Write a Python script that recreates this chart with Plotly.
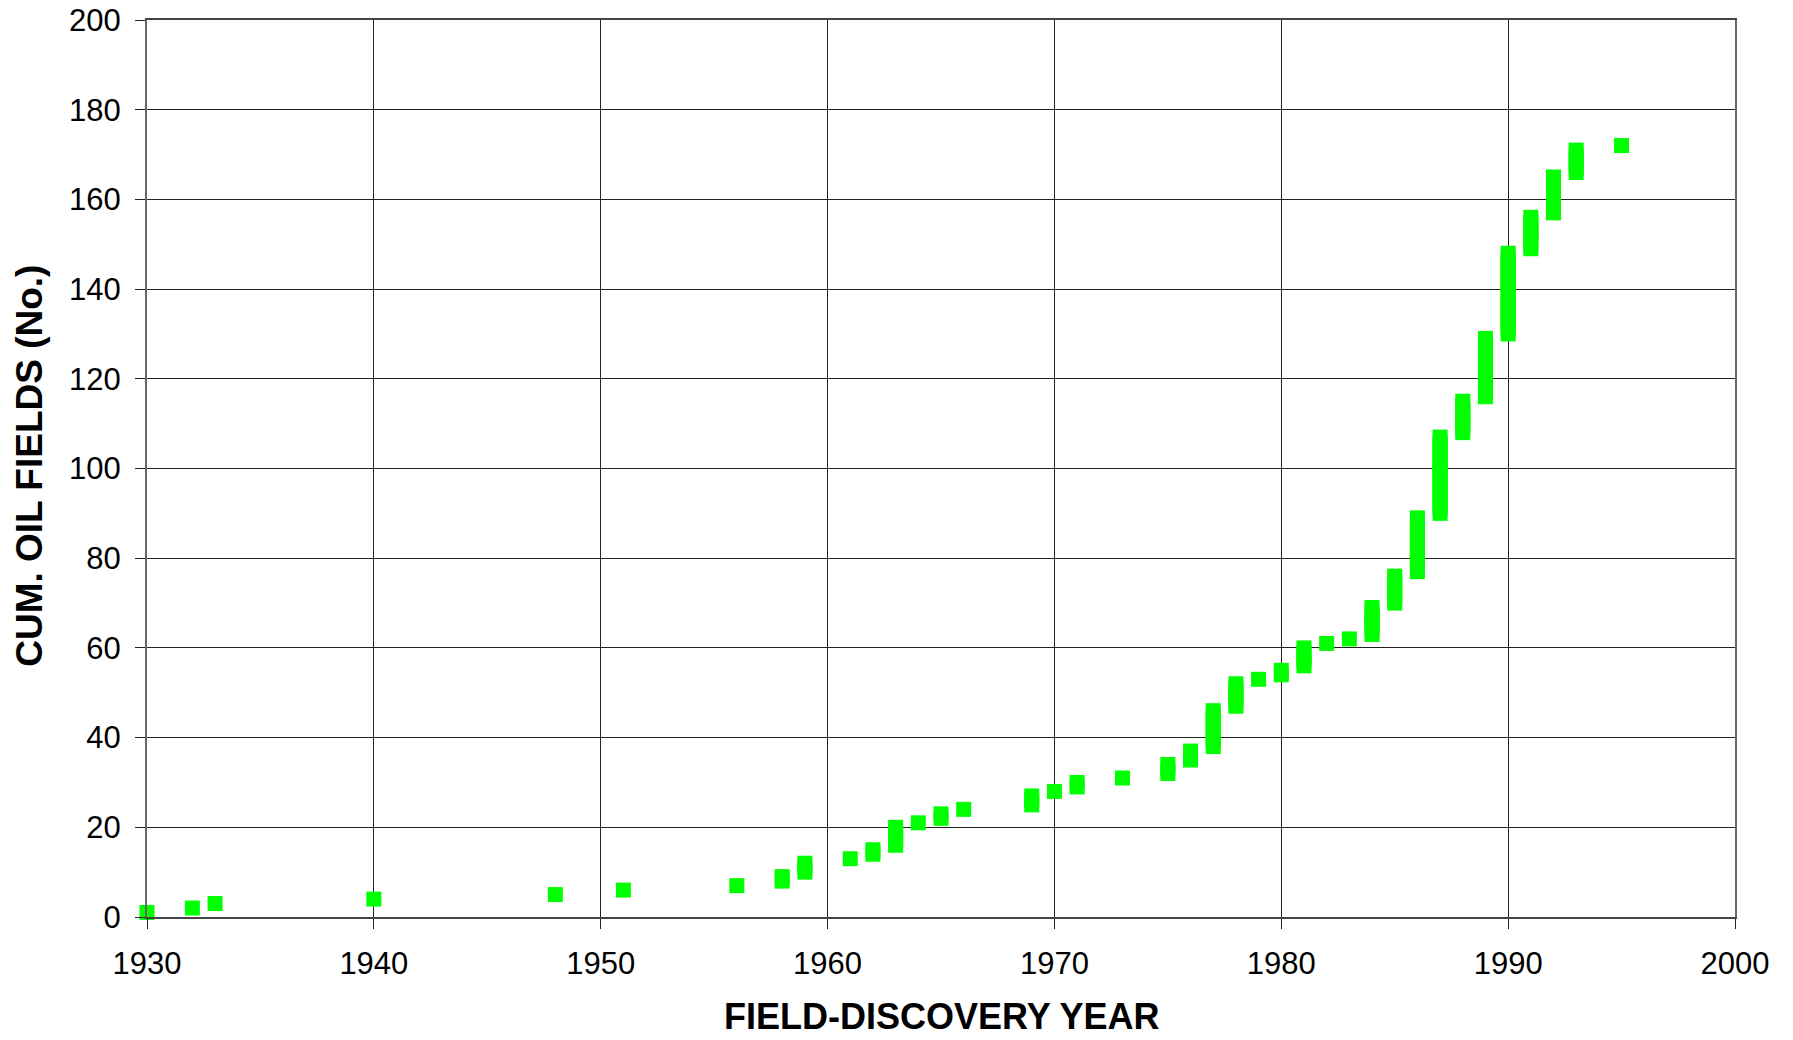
import plotly.graph_objects as go

# Discovery years and number of oil fields discovered in each year
discovery_years = [1930, 1932, 1933, 1940, 1948, 1951, 1956, 1958, 1959, 1961,
                   1962, 1963, 1964, 1965, 1966, 1969, 1970, 1971, 1973, 1975,
                   1976, 1977, 1978, 1979, 1980, 1981, 1982, 1983, 1984, 1985,
                   1986, 1987, 1988, 1989, 1990, 1991, 1992, 1993, 1995]
fields_per_year = [1, 1, 1, 1, 1, 1, 1, 2, 3, 1,
                   2, 5, 1, 2, 1, 3, 1, 2, 1, 3,
                   3, 9, 6, 1, 2, 5, 1, 1, 7, 7,
                   13, 18, 8, 14, 19, 8, 9, 6, 1]

x_ticks = [1930, 1940, 1950, 1960, 1970, 1980, 1990, 2000]
y_ticks = [0, 20, 40, 60, 80, 100, 120, 140, 160, 180, 200]

x_title = "FIELD-DISCOVERY YEAR"
y_title = "CUM. OIL FIELDS (No.)"

# one point per field: (discovery year, cumulative number of fields)
xs, ys = [], []
total = 0
for yr, n in zip(discovery_years, fields_per_year):
    for _ in range(n):
        total += 1
        xs.append(yr)
        ys.append(total)

fig = go.Figure(go.Scatter(
    x=xs, y=ys, mode="markers", cliponaxis=False,
    marker=dict(symbol="square", size=15, color="#00ff00", line=dict(width=0)),
    showlegend=False, hoverinfo="x+y"))

font = "Liberation Sans, Arial, sans-serif"
fig.update_layout(
    width=1793, height=1040,
    margin=dict(l=147, r=58, t=20, b=123, autoexpand=False),
    paper_bgcolor="white", plot_bgcolor="white",
    font=dict(family=font, size=31, color="black"),
    xaxis=dict(range=[1930, 2000], tickvals=x_ticks, ticktext=[str(t) for t in x_ticks],
               showgrid=True, gridcolor="#222222", gridwidth=1,
               showline=True, linecolor="#444444", linewidth=2, mirror=True,
               ticks="outside", ticklen=10, tickcolor="#222222", ticklabelstandoff=8,
               ticklabeloverflow="allow",
               tickfont=dict(size=31), zeroline=False, automargin=False),
    yaxis=dict(range=[0, 200], tickvals=y_ticks,
               showgrid=True, gridcolor="#222222", gridwidth=1,
               showline=True, linecolor="#666666", linewidth=2, mirror=True,
               ticks="outside", ticklen=10, tickcolor="#222222", ticklabelstandoff=8,
               ticklabeloverflow="allow",
               tickfont=dict(size=31), zeroline=False, automargin=False),
    annotations=[
        dict(text="<b>%s</b>" % x_title, xref="paper", yref="paper",
             x=0.5, y=-0.1104, xanchor="center", yanchor="middle",
             showarrow=False, font=dict(size=36)),
        dict(text="<b>%s</b>" % y_title, xref="paper", yref="paper",
             x=-0.0737, y=0.503, xanchor="center", yanchor="middle",
             textangle=-90, showarrow=False, font=dict(size=37)),
    ],
)

fig.write_html("out.html", config={"displayModeBar": False},
               post_script="document.body.style.margin='0';document.body.style.overflow='hidden';")
